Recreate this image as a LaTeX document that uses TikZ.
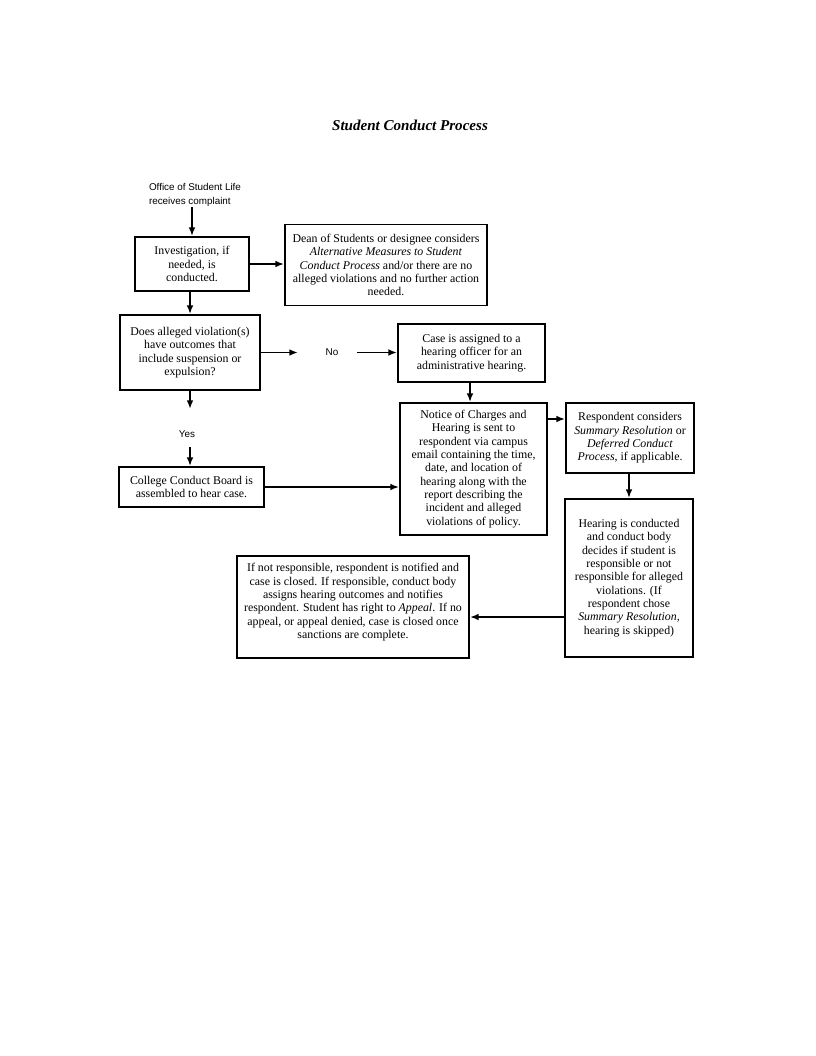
\documentclass[tikz,border=0pt]{standalone}
\usepackage{fontspec}
\setmainfont{Liberation Serif}
\newfontfamily\arialfont{Liberation Sans}
\usetikzlibrary{arrows.meta,positioning}

\begin{document}
\begin{tikzpicture}[x=0.75pt,y=-0.75pt,>={Latex[length=6.5pt,width=5pt]},
    every node/.style={align=center,inner sep=0pt},
    box/.style 2 args={draw,line width=1.4pt,minimum width=#1*0.75pt,minimum height=#2*0.75pt,
      font=\fontsize{8.9pt}{10pt}\selectfont},
    sans/.style={font=\arialfont\fontsize{7.4pt}{10pt}\selectfont},
    conn/.style={->,line width=1.4pt}]
    \useasboundingbox (0,0) rectangle (816,1056);
    \node[font=\fontsize{11.3pt}{14pt}\selectfont\bfseries\itshape] (title) at (410,125) {Student Conduct Process};

    \node[sans,align=left] (office) at (195,195) {Office of Student Life\\receives complaint};
    \node[box={114}{54}] (inv) at (192,264) {Investigation, if\\needed, is\\conducted.};
    \node[box={202}{81}] (dean) at (386,265) {Dean of Students or designee considers\\\textit{Alternative Measures to Student}\\\textit{Conduct Process} and/or there are no\\alleged violations and no further action\\needed.};
    \node[box={140}{75}] (does) at (190,352.5) {Does alleged violation(s)\\have outcomes that\\include suspension or\\expulsion?};
    \node[sans] (no) at (332,352) {No};
    \node[box={147}{58}] (case) at (471.5,353) {Case is assigned to a\\hearing officer for an\\administrative hearing.};
    \node[sans] (yes) at (187,434) {Yes};
    \node[box={145}{40}] (college) at (191.5,487) {College Conduct Board is\\assembled to hear case.};
    \node[box={147}{132}] (notice) at (473.5,469) {Notice of Charges and\\Hearing is sent to\\respondent via campus\\email containing the time,\\date, and location of\\hearing along with the\\report describing the\\incident and alleged\\violations of policy.};
    \node[box={128}{70}] (resp) at (630,438) {Respondent considers\\\textit{Summary Resolution} or\\\textit{Deferred Conduct}\\\textit{Process}, if applicable.};
    \node[box={128}{158}] (hear) at (629,578) {Hearing is conducted\\and conduct body\\decides if student is\\responsible or not\\responsible for alleged\\violations. (If\\respondent chose\\\textit{Summary Resolution,}\\hearing is skipped)};
    \node[box={232}{102}] (close) at (353,607) {If not responsible, respondent is notified and\\case is closed. If responsible, conduct body\\assigns hearing outcomes and notifies\\respondent. Student has right to \textit{Appeal}. If no\\appeal, or appeal denied, case is closed once\\sanctions are complete.\\[-1pt]};

    % free ends round the Yes / No labels
    \coordinate (noin) at (298,352.5);
    \coordinate (noout) at (357,352.5);
    \coordinate (yesin) at (190,409);
    \coordinate (yesout) at (190,447);

    \draw[conn] (office.south -| inv.north) -- (inv.north);
    \draw[conn] (inv.east) -- (inv.east -| dean.west);
    \draw[conn] (inv.south -| does.north) -- (does.north);
    \draw[conn] (does.east) -- (noin);
    \draw[conn] (noout) -- (noout -| case.west);
    \draw[conn] (does.south) -- (yesin);
    \draw[conn] (yesout) -- (yesout |- college.north);
    \draw[conn] (college.east) -- (college.east -| notice.west);
    \draw[conn] (case.south -| 470,0) -- (notice.north -| 470,0);
    \draw[conn] (notice.east |- 0,419) -- (resp.west |- 0,419);
    \draw[conn] (resp.south -| 629,0) -- (hear.north);
    \draw[conn] (hear.west |- 0,617) -- (close.east |- 0,617);
  \end{tikzpicture}
\end{document}
